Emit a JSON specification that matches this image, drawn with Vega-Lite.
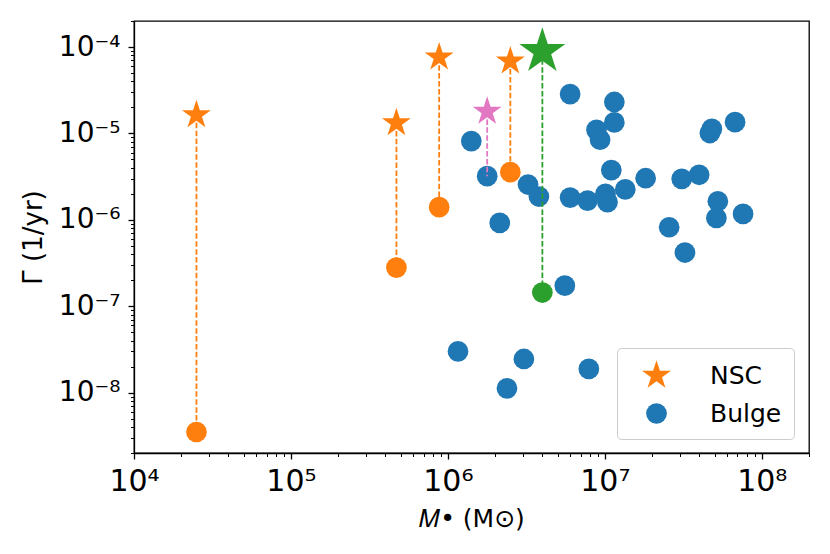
{
  "$schema": "https://vega.github.io/schema/vega-lite/v6.json",
  "autosize": "none",
  "padding": {"left": 134, "top": 21, "right": 21, "bottom": 101},
  "width": 675,
  "height": 432,
  "background": "white",
  "datasets": {
    "rates": [
      {"galaxy": "NSC-1", "sample": "NSC", "component": "NSC", "mass": 25000, "rate": 1.64e-5},
      {"galaxy": "NSC-1", "sample": "NSC", "component": "Bulge", "mass": 25000, "rate": 3.5e-9},
      {"galaxy": "NSC-2", "sample": "NSC", "component": "NSC", "mass": 470000, "rate": 1.32e-5},
      {"galaxy": "NSC-2", "sample": "NSC", "component": "Bulge", "mass": 470000, "rate": 2.8e-7},
      {"galaxy": "NSC-3", "sample": "NSC", "component": "NSC", "mass": 880000, "rate": 7.6e-5},
      {"galaxy": "NSC-3", "sample": "NSC", "component": "Bulge", "mass": 880000, "rate": 1.4e-6},
      {"galaxy": "NSC-4", "sample": "NSC", "component": "NSC", "mass": 2500000, "rate": 6.85e-5},
      {"galaxy": "NSC-4", "sample": "NSC", "component": "Bulge", "mass": 2500000, "rate": 3.56e-6},
      {"galaxy": "MW", "sample": "MW", "component": "NSC", "mass": 4000000, "rate": 8.9e-5},
      {"galaxy": "MW", "sample": "MW", "component": "Bulge", "mass": 4000000, "rate": 1.44e-7},
      {"galaxy": "B-02", "sample": "Bulge", "component": "NSC", "mass": 1780000, "rate": 1.79e-5},
      {"galaxy": "B-01", "sample": "Bulge", "component": "Bulge", "mass": 1410000, "rate": 8.15e-6},
      {"galaxy": "B-02", "sample": "Bulge", "component": "Bulge", "mass": 1780000, "rate": 3.2e-6},
      {"galaxy": "B-03", "sample": "Bulge", "component": "Bulge", "mass": 2140000, "rate": 9.2e-7},
      {"galaxy": "B-04", "sample": "Bulge", "component": "Bulge", "mass": 3240000, "rate": 2.56e-6},
      {"galaxy": "B-05", "sample": "Bulge", "component": "Bulge", "mass": 3800000, "rate": 1.86e-6},
      {"galaxy": "B-06", "sample": "Bulge", "component": "Bulge", "mass": 6010000, "rate": 2.85e-5},
      {"galaxy": "B-07", "sample": "Bulge", "component": "Bulge", "mass": 6010000, "rate": 1.81e-6},
      {"galaxy": "B-08", "sample": "Bulge", "component": "Bulge", "mass": 7760000, "rate": 1.67e-6},
      {"galaxy": "B-09", "sample": "Bulge", "component": "Bulge", "mass": 10100000, "rate": 2.0e-6},
      {"galaxy": "B-10", "sample": "Bulge", "component": "Bulge", "mass": 10400000, "rate": 1.6e-6},
      {"galaxy": "B-11", "sample": "Bulge", "component": "Bulge", "mass": 11000000, "rate": 3.76e-6},
      {"galaxy": "B-12", "sample": "Bulge", "component": "Bulge", "mass": 11500000, "rate": 2.31e-5},
      {"galaxy": "B-13", "sample": "Bulge", "component": "Bulge", "mass": 11500000, "rate": 1.34e-5},
      {"galaxy": "B-14", "sample": "Bulge", "component": "Bulge", "mass": 8850000, "rate": 1.1e-5},
      {"galaxy": "B-15", "sample": "Bulge", "component": "Bulge", "mass": 9330000, "rate": 8.45e-6},
      {"galaxy": "B-16", "sample": "Bulge", "component": "Bulge", "mass": 13500000, "rate": 2.25e-6},
      {"galaxy": "B-17", "sample": "Bulge", "component": "Bulge", "mass": 18200000, "rate": 3.03e-6},
      {"galaxy": "B-18", "sample": "Bulge", "component": "Bulge", "mass": 25700000, "rate": 8.2e-7},
      {"galaxy": "B-19", "sample": "Bulge", "component": "Bulge", "mass": 30900000, "rate": 2.98e-6},
      {"galaxy": "B-20", "sample": "Bulge", "component": "Bulge", "mass": 32400000, "rate": 4.18e-7},
      {"galaxy": "B-21", "sample": "Bulge", "component": "Bulge", "mass": 39900000, "rate": 3.32e-6},
      {"galaxy": "B-22", "sample": "Bulge", "component": "Bulge", "mass": 48100000, "rate": 1.13e-5},
      {"galaxy": "B-23", "sample": "Bulge", "component": "Bulge", "mass": 46700000, "rate": 1.01e-5},
      {"galaxy": "B-24", "sample": "Bulge", "component": "Bulge", "mass": 67600000, "rate": 1.35e-5},
      {"galaxy": "B-25", "sample": "Bulge", "component": "Bulge", "mass": 52500000, "rate": 1.64e-6},
      {"galaxy": "B-26", "sample": "Bulge", "component": "Bulge", "mass": 51400000, "rate": 1.05e-6},
      {"galaxy": "B-27", "sample": "Bulge", "component": "Bulge", "mass": 76000000, "rate": 1.17e-6},
      {"galaxy": "B-28", "sample": "Bulge", "component": "Bulge", "mass": 5560000, "rate": 1.73e-7},
      {"galaxy": "B-29", "sample": "Bulge", "component": "Bulge", "mass": 1160000, "rate": 3.0e-8},
      {"galaxy": "B-30", "sample": "Bulge", "component": "Bulge", "mass": 3050000, "rate": 2.45e-8},
      {"galaxy": "B-31", "sample": "Bulge", "component": "Bulge", "mass": 2380000, "rate": 1.12e-8},
      {"galaxy": "B-32", "sample": "Bulge", "component": "Bulge", "mass": 7910000, "rate": 1.88e-8}
    ]
  },
  "data": {"name": "rates"},
  "encoding": {
    "x": {
      "field": "mass",
      "type": "quantitative",
      "scale": {"type": "log", "domain": [10000, 200000000], "nice": false},
      "axis": {
        "values": [10000, 20000, 30000, 40000, 50000, 60000, 70000, 80000, 90000,
                   100000, 200000, 300000, 400000, 500000, 600000, 700000, 800000, 900000,
                   1000000, 2000000, 3000000, 4000000, 5000000, 6000000, 7000000, 8000000, 9000000,
                   10000000, 20000000, 30000000, 40000000, 50000000, 60000000, 70000000, 80000000, 90000000,
                   100000000, 200000000],
        "labelExpr": "abs(log(datum.value)/LN10 - round(log(datum.value)/LN10)) < 0.001 ? ['10⁴','10⁵','10⁶','10⁷','10⁸'][round(log(datum.value)/LN10) - 4] : ''",
        "labelFontSize": 30,
        "labelPadding": 7,
        "labelFlush": false,
        "labelOverlap": false,
        "tickSize": {"condition": {"test": "abs(log(datum.value)/LN10 - round(log(datum.value)/LN10)) > 0.001", "value": 3.5}, "value": 6},
        "tickWidth": {"condition": {"test": "abs(log(datum.value)/LN10 - round(log(datum.value)/LN10)) > 0.001", "value": 1}, "value": 1.3},
        "title": "𝑀• (M⊙)",
        "titleFontSize": 25,
        "titleX": 337.5,
        "titleY": 65,
        "titleAlign": "center",
        "titleBaseline": "middle"
      }
    },
    "y": {
      "field": "rate",
      "type": "quantitative",
      "scale": {"type": "log", "domain": [2e-9, 2e-4], "nice": false},
      "axis": {
        "values": [2e-9, 3e-9, 4e-9, 5e-9, 6e-9, 7e-9, 8e-9, 9e-9,
                   1e-8, 2e-8, 3e-8, 4e-8, 5e-8, 6e-8, 7e-8, 8e-8, 9e-8,
                   1e-7, 2e-7, 3e-7, 4e-7, 5e-7, 6e-7, 7e-7, 8e-7, 9e-7,
                   1e-6, 2e-6, 3e-6, 4e-6, 5e-6, 6e-6, 7e-6, 8e-6, 9e-6,
                   1e-5, 2e-5, 3e-5, 4e-5, 5e-5, 6e-5, 7e-5, 8e-5, 9e-5,
                   1e-4, 2e-4],
        "labelExpr": "abs(log(datum.value)/LN10 - round(log(datum.value)/LN10)) < 0.001 ? ['10⁻⁸','10⁻⁷','10⁻⁶','10⁻⁵','10⁻⁴'][round(log(datum.value)/LN10) + 8] : ''",
        "labelFontSize": 28,
        "labelPadding": 8,
        "labelFlush": false,
        "labelOverlap": false,
        "tickSize": {"condition": {"test": "abs(log(datum.value)/LN10 - round(log(datum.value)/LN10)) > 0.001", "value": 3.5}, "value": 6},
        "tickWidth": {"condition": {"test": "abs(log(datum.value)/LN10 - round(log(datum.value)/LN10)) > 0.001", "value": 1}, "value": 1.3},
        "title": "Γ (1/yr)",
        "titleFontSize": 26,
        "titleX": -101,
        "titleY": 216,
        "titleAngle": -90,
        "titleAlign": "center",
        "titleBaseline": "middle"
      }
    }
  },
  "layer": [
    {
      "transform": [
        {"filter": "(datum.component == 'NSC' && datum.sample == 'NSC') || (datum.component == 'Bulge' && datum.sample == 'Bulge')"}
      ],
      "mark": {"type": "point", "filled": true, "opacity": 1, "strokeWidth": 0},
      "encoding": {
        "color": {
          "field": "component",
          "type": "nominal",
          "scale": {"domain": ["NSC", "Bulge"], "range": ["#ff7f0e", "#1f77b4"]},
          "legend": {"title": null}
        },
        "shape": {
          "field": "component",
          "type": "nominal",
          "scale": {"domain": ["NSC", "Bulge"], "range": ["M0,-1L0.2245,-0.309L0.9511,-0.309L0.3633,0.118L0.5878,0.809L0,0.382L-0.5878,0.809L-0.3633,0.118L-0.9511,-0.309L-0.2245,-0.309Z", "circle"]},
          "legend": {"title": null}
        },
        "size": {
          "field": "component",
          "type": "nominal",
          "scale": {"type": "point", "padding": 0, "domain": ["NSC", "Bulge"], "range": [924, 430]},
          "legend": {"title": null}
        }
      }
    },
    {
      "layer": [
        {
          "transform": [{"filter": "datum.component == 'Bulge' && datum.sample != 'Bulge'"}],
          "mark": {"type": "point", "filled": true, "opacity": 1, "strokeWidth": 0, "shape": "circle", "size": 430},
          "encoding": {
            "color": {"field": "sample", "type": "nominal", "scale": {"domain": ["NSC", "MW", "Bulge"], "range": ["#ff7f0e", "#2ca02c", "#e377c2"]}, "legend": null}
          }
        },
        {
          "transform": [{"filter": "datum.component == 'NSC' && datum.sample != 'NSC'"}],
          "mark": {"type": "point", "filled": true, "opacity": 1, "strokeWidth": 0, "shape": "M0,-1L0.2245,-0.309L0.9511,-0.309L0.3633,0.118L0.5878,0.809L0,0.382L-0.5878,0.809L-0.3633,0.118L-0.9511,-0.309L-0.2245,-0.309Z"},
          "encoding": {
            "color": {"field": "sample", "type": "nominal", "legend": null},
            "size": {"field": "sample", "type": "nominal", "scale": {"type": "point", "padding": 0, "domain": ["MW", "Bulge"], "range": [2343, 924]}, "legend": null}
          }
        },
        {
          "transform": [
            {"joinaggregate": [{"op": "count", "as": "n"}], "groupby": ["galaxy"]},
            {"filter": "datum.n > 1"}
          ],
          "mark": {"type": "line", "strokeWidth": 1.8, "strokeDash": [5.5, 2.4]},
          "encoding": {
            "detail": {"field": "galaxy", "type": "nominal"},
            "color": {"field": "sample", "type": "nominal", "legend": null}
          }
        }
      ]
    }
  ],
  "resolve": {"scale": {"color": "independent", "shape": "independent", "size": "independent"}},
  "config": {
    "font": "DejaVu Sans",
    "view": {"stroke": "black", "strokeWidth": 1.3},
    "axis": {
      "grid": false,
      "labelFont": "DejaVu Sans",
      "labelColor": "black",
      "titleFont": "DejaVu Sans",
      "titleFontWeight": "normal",
      "titleColor": "black",
      "tickColor": "black",
      "domainColor": "black",
      "domainWidth": 1.3
    },
    "legend": {
      "orient": "none",
      "legendX": 483,
      "legendY": 327,
      "padding": 12,
      "symbolOffset": 12,
      "labelOffset": 38,
      "rowPadding": 12,
      "labelFont": "DejaVu Sans",
      "labelFontSize": 25,
      "labelColor": "black",
      "strokeColor": "#cccccc",
      "fillColor": "rgba(255,255,255,0.8)",
      "cornerRadius": 4,
      "symbolStrokeWidth": 0,
      "symbolOpacity": 1
    }
  }
}
